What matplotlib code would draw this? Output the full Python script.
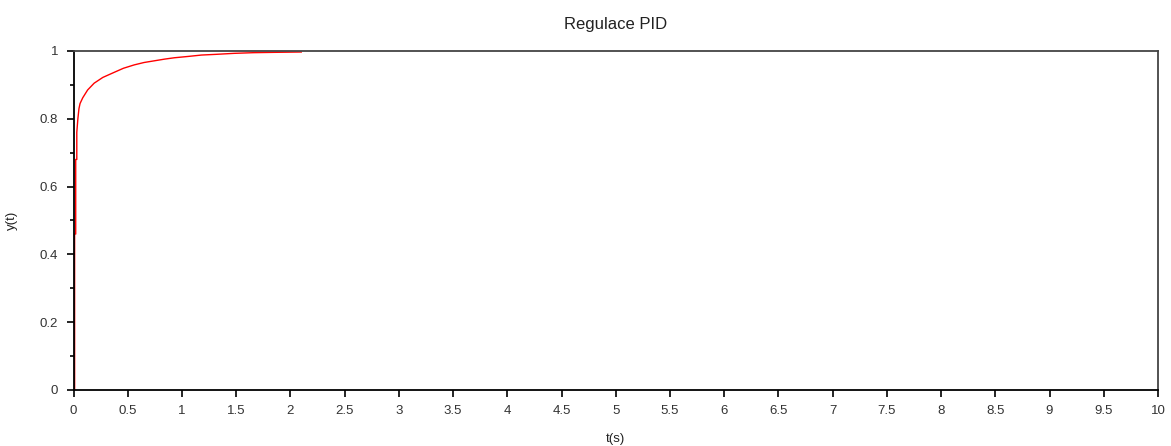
import numpy as np
import matplotlib
matplotlib.use("Agg")
import matplotlib.pyplot as plt
from matplotlib.ticker import MultipleLocator

# closed-loop step response of the PID loop, sampled from the simulation
t = [0.0, 0.0, 0.01, 0.01, 0.02, 0.02, 0.03, 0.04, 0.05, 0.075, 0.12, 0.18,
     0.26, 0.365, 0.45, 0.55, 0.64, 0.735, 0.83, 0.92, 1.05, 1.17, 1.3,
     1.47, 1.65, 1.85, 2.09]
y = [0.0, 0.46, 0.46, 0.68, 0.68, 0.76, 0.80, 0.83, 0.845, 0.862, 0.885, 0.905,
     0.922, 0.937, 0.949, 0.959, 0.966, 0.971, 0.976, 0.980, 0.984, 0.988, 0.990,
     0.993, 0.995, 0.996, 0.997]

x_ticks = np.arange(0, 10.01, 0.5)
x_tick_labels = ["0", "0.5", "1", "1.5", "2", "2.5", "3", "3.5", "4", "4.5", "5",
                 "5.5", "6", "6.5", "7", "7.5", "8", "8.5", "9", "9.5", "10"]
y_ticks = [0, 0.2, 0.4, 0.6, 0.8, 1]
y_tick_labels = ["0", "0.2", "0.4", "0.6", "0.8", "1"]

plt.rcParams['font.family'] = ['Liberation Sans', 'DejaVu Sans']

fig = plt.figure(figsize=(11.71, 4.46), dpi=100)
ax = fig.add_axes([0.0628, 0.1256, 0.9261, 0.7601])

# small offset keeps the vertical rise visible beside the left spine
ax.plot(np.array(t) + 0.01, y, color="red", lw=1.0)

ax.set_xlim(0, 10)
ax.set_ylim(0, 1)
ax.set_xticks(x_ticks)
ax.set_xticklabels(x_tick_labels)
ax.set_yticks(y_ticks)
ax.set_yticklabels(y_tick_labels)
ax.yaxis.set_minor_locator(MultipleLocator(0.1))

ax.tick_params(which="major", direction="out", length=5, width=1.2,
               labelsize=9.5, colors="black", labelcolor="#333333", pad=6)
ax.tick_params(which="minor", direction="out", length=3, width=1.2)

for side in ("left", "bottom"):
    ax.spines[side].set_linewidth(1.3)
    ax.spines[side].set_color("black")
for side in ("top", "right"):
    ax.spines[side].set_linewidth(1.3)
    ax.spines[side].set_color("#444444")

ax.set_title("Regulace PID", fontsize=12, color="#222222", pad=16)
ax.set_xlabel("t(s)", fontsize=9.5, color="#222222", labelpad=11)
ax.set_ylabel("y(t)", fontsize=9.5, color="#222222", labelpad=16)

fig.savefig("out.png", dpi=100)
